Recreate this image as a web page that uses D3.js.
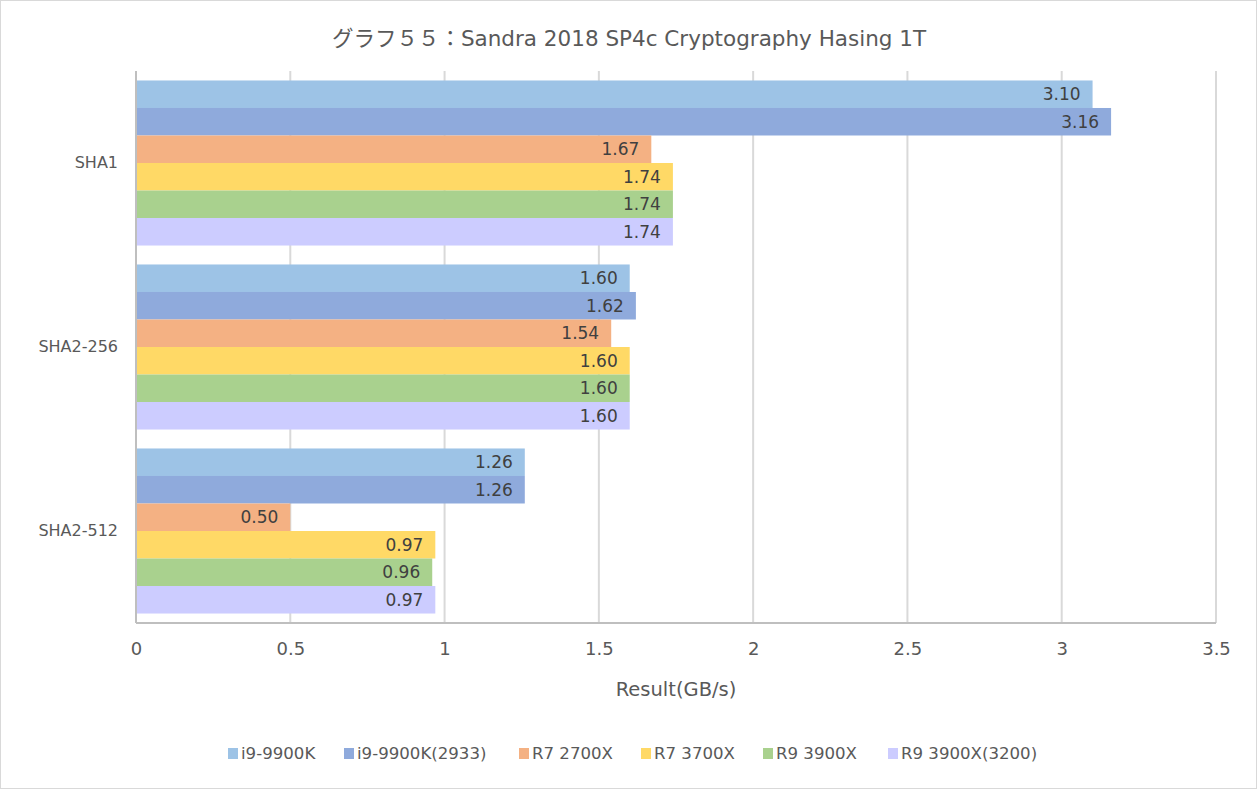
<!DOCTYPE html>
<html><head><meta charset="utf-8">
<script src="https://cdn.jsdelivr.net/npm/d3@7"></script>
<style>
body{margin:0;background:#fff;}
text{font-family:"DejaVu Sans","Noto Sans CJK JP",sans-serif;}
</style></head>
<body><svg id="c" width="1257" height="789"></svg>
<script>
const categories = ["SHA1","SHA2-256","SHA2-512"];
const seriesNames = ["i9-9900K","i9-9900K(2933)","R7 2700X","R7 3700X","R9 3900X","R9 3900X(3200)"];
const seriesColors = ["#9DC3E6","#8FAADC","#F4B183","#FFD966","#A9D18E","#CCCCFF"];
const v_i9 = [3.10,1.60,1.26];
const v_i9_2933 = [3.16,1.62,1.26];
const v_r7_2700 = [1.67,1.54,0.50];
const v_r7_3700 = [1.74,1.60,0.97];
const v_r9_3900 = [1.74,1.60,0.96];
const v_r9_3200 = [1.74,1.60,0.97];
const seriesValues = [v_i9,v_i9_2933,v_r7_2700,v_r7_3700,v_r9_3900,v_r9_3200];
const xTicks = [0,0.5,1,1.5,2,2.5,3,3.5];
const title = "グラフ５５：Sandra 2018 SP4c Cryptography Hasing 1T";
const xTitle = "Result(GB/s)";
const FF = '"DejaVu Sans","Noto Sans CJK JP",sans-serif';

const svg = d3.select("#c");
svg.append("rect").attr("x",0.5).attr("y",0.5).attr("width",1256).attr("height",788)
  .attr("fill","#fff").attr("stroke","#d9d9d9");

const L=136, R=1216, T=71, B=623;
const x = d3.scaleLinear().domain([0,3.5]).range([L,R]);
const y0 = d3.scaleBand().domain(categories).range([T,B]).paddingInner(0.103).paddingOuter(0.0515);
const y1 = d3.scaleBand().domain(seriesNames).range([0,y0.bandwidth()]);

svg.append("g").selectAll("line").data(xTicks.slice(1)).join("line")
  .attr("x1",d=>x(d)).attr("x2",d=>x(d)).attr("y1",T).attr("y2",B)
  .attr("stroke","#d9d9d9").attr("stroke-width",2);

categories.forEach((cat,ci)=>{
  const g = svg.append("g").attr("transform",`translate(0,${y0(cat)})`);
  seriesNames.forEach((s,si)=>{
    const v = seriesValues[si][ci];
    g.append("rect").attr("x",x(0)).attr("y",y1(s)).attr("width",x(v)-x(0)).attr("height",y1.bandwidth())
      .attr("fill",seriesColors[si]);
    g.append("text").attr("x",x(v)-12).attr("y",y1(s)+y1.bandwidth()/2).attr("dy","0.36em")
      .attr("text-anchor","end").attr("font-size",17).attr("fill","#404040").text(v.toFixed(2));
  });
});

svg.append("line").attr("x1",L).attr("x2",L).attr("y1",T).attr("y2",B).attr("stroke","#bfbfbf").attr("stroke-width",2);
svg.append("line").attr("x1",L).attr("x2",R).attr("y1",B).attr("y2",B).attr("stroke","#bfbfbf").attr("stroke-width",2);

const xa = d3.axisBottom(x).tickValues(xTicks).tickSize(0).tickPadding(19).tickFormat(d=>String(d));
const gx = svg.append("g").attr("transform",`translate(0,${B})`).call(xa);
gx.select(".domain").remove();
gx.selectAll("text").attr("font-size",18).attr("fill","#595959").attr("font-family",FF);

const ya = d3.axisLeft(y0).tickSize(0).tickPadding(18);
const gy = svg.append("g").attr("transform",`translate(${L},0)`).call(ya);
gy.select(".domain").remove();
gy.selectAll("text").attr("font-size",16).attr("fill","#595959").attr("font-family",FF);

svg.append("text").attr("x",629).attr("y",46).attr("text-anchor","middle").attr("font-size",21.5)
  .attr("fill","#595959").text(title);
svg.append("text").attr("x",676).attr("y",696).attr("text-anchor","middle").attr("font-size",19.5)
  .attr("fill","#595959").text(xTitle);

const legX = [228,344,519,641,763,888];
const lg = svg.append("g");
seriesNames.forEach((s,i)=>{
  lg.append("rect").attr("x",legX[i]).attr("y",748).attr("width",10).attr("height",11).attr("fill",seriesColors[i]);
  lg.append("text").attr("x",legX[i]+13).attr("y",753).attr("dy","0.36em").attr("font-size",16.6).attr("fill","#595959").text(s);
});
</script></body></html>
